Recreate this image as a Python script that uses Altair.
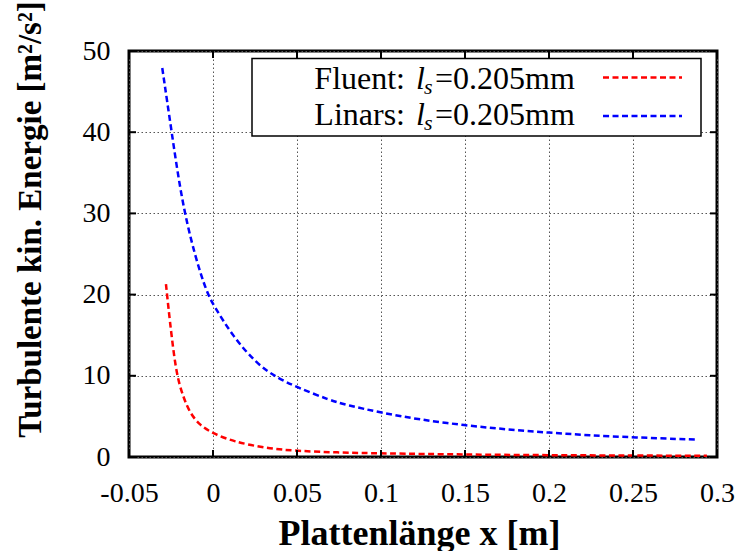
import altair as alt
import pandas as pd

# ---- data ----
fluent_x = [-0.028, -0.0266, -0.0246, -0.0216, -0.0177, -0.0137, -0.0078, 0.0, 0.012,
            0.0318, 0.0497, 0.075, 0.1, 0.15, 0.2, 0.25, 0.294]
fluent_y = [21.3, 18.5, 14.8, 10.0, 7.4, 5.4, 3.9, 2.9, 1.9,
            1.07, 0.74, 0.55, 0.45, 0.3, 0.22, 0.18, 0.15]

linars_x = [-0.0302, -0.0246, -0.0177, -0.0080, -0.0029, 0.0, 0.012, 0.0259, 0.0378,
            0.0497, 0.0695, 0.0794, 0.1, 0.123, 0.15, 0.1746, 0.2, 0.224, 0.25, 0.2875]
linars_y = [47.9, 40.0, 30.3, 22.8, 20.0, 18.8, 14.8, 11.5, 9.8,
            8.6, 7.0, 6.4, 5.46, 4.6, 3.9, 3.4, 3.0, 2.67, 2.42, 2.14]

x_ticks = [-0.05, 0, 0.05, 0.1, 0.15, 0.2, 0.25, 0.3]
y_ticks = [0, 10, 20, 30, 40, 50]

series_names = ["Fluent", "Linars"]
series_colors = ["#ff0000", "#0000ff"]
legend_prefix = ["Fluent:", "Linars:"]
legend_sym = "l"
legend_sub = "s"
legend_value = "=0.205mm"

x_title = "Plattenlänge x [m]"
y_title = "Turbulente kin. Energie [m²/s²]"

# ---- layout ----
W, H = 588, 406
FONT = "Liberation Serif"
DASH = [6, 3.5]

curve_df = pd.DataFrame({
    "x": fluent_x + linars_x,
    "y": fluent_y + linars_y,
    "series": [series_names[0]] * len(fluent_x) + [series_names[1]] * len(linars_x),
    "order": list(range(len(fluent_x))) + list(range(len(linars_x))),
})

xscale = alt.Scale(domain=[-0.05, 0.3], nice=False, zero=False)
yscale = alt.Scale(domain=[0, 50], nice=False, zero=False)

xaxis = alt.Axis(
    values=x_ticks, labelExpr="datum.value + ''", ticks=False, tickSize=0, domain=False,
    labelFont=FONT, labelFontSize=28, labelColor="black", labelBaseline="alphabetic",
    labelPadding=44, labelFlush=False, labelOverlap=False,
    grid=True, gridColor="#555555", gridDash=[1.5, 2.5], gridWidth=1,
    title=x_title, titleFont=FONT, titleFontSize=36, titleFontWeight="bold", titleColor="black",
    titleBaseline="alphabetic", titleY=87, titleX=290, titleAlign="center",
)
yaxis = alt.Axis(
    values=y_ticks, ticks=False, tickSize=0, domain=False,
    labelFont=FONT, labelFontSize=28, labelColor="black", labelPadding=19,
    labelOverlap=False, labelFlush=False,
    grid=True, gridColor="#555555", gridDash=[1.5, 2.5], gridWidth=1,
    title=y_title, titleFont=FONT, titleFontSize=33, titleFontWeight="bold", titleColor="black",
    titleBaseline="alphabetic", titleAngle=270, titleX=-89, titleY=168, titleAlign="center",
)

lines = alt.Chart(curve_df).mark_line(
    strokeDash=DASH, strokeWidth=2.5, clip=True, interpolate="basis"
).encode(
    x=alt.X("x:Q", scale=xscale, axis=xaxis),
    y=alt.Y("y:Q", scale=yscale, axis=yaxis),
    color=alt.Color("series:N", scale=alt.Scale(domain=series_names, range=series_colors), legend=None),
    order="order:Q",
)

xt = pd.DataFrame({"x": x_ticks})
yt = pd.DataFrame({"y": y_ticks})
TL = 7
xtick_b = alt.Chart(xt).mark_rule(color="black", strokeWidth=2).encode(
    x=alt.X("x:Q", scale=xscale, axis=xaxis), y=alt.value(H), y2=alt.value(H - TL))
xtick_t = alt.Chart(xt).mark_rule(color="black", strokeWidth=2).encode(
    x=alt.X("x:Q", scale=xscale, axis=xaxis), y=alt.value(0), y2=alt.value(TL))
ytick_l = alt.Chart(yt).mark_rule(color="black", strokeWidth=2).encode(
    y=alt.Y("y:Q", scale=yscale, axis=yaxis), x=alt.value(0), x2=alt.value(TL))
ytick_r = alt.Chart(yt).mark_rule(color="black", strokeWidth=2).encode(
    y=alt.Y("y:Q", scale=yscale, axis=yaxis), x=alt.value(W), x2=alt.value(W - TL))

one = pd.DataFrame({"a": [0]})
legend_box = alt.Chart(one).mark_rect(fill="white", stroke="black", strokeWidth=1.5).encode(
    x=alt.value(123), x2=alt.value(572), y=alt.value(7.5), y2=alt.value(85))

legend_layers = [legend_box]
row_base = [38.3, 74.3]
row_line = [26.6, 65.0]
for i in range(2):
    d = pd.DataFrame({"p": [legend_prefix[i]], "l": [legend_sym], "s": [legend_sub], "v": [legend_value]})
    b = row_base[i]
    legend_layers.append(alt.Chart(d).mark_text(
        align="right", baseline="alphabetic", font=FONT, fontSize=32, color="black").encode(
        x=alt.value(276), y=alt.value(b), text="p:N"))
    legend_layers.append(alt.Chart(d).mark_text(
        align="left", baseline="alphabetic", font=FONT, fontSize=32, fontStyle="italic", color="black").encode(
        x=alt.value(287), y=alt.value(b), text="l:N"))
    legend_layers.append(alt.Chart(d).mark_text(
        align="left", baseline="alphabetic", font=FONT, fontSize=22, fontStyle="italic", color="black").encode(
        x=alt.value(295), y=alt.value(b + 5), text="s:N"))
    legend_layers.append(alt.Chart(d).mark_text(
        align="left", baseline="alphabetic", font=FONT, fontSize=32, color="black").encode(
        x=alt.value(306), y=alt.value(b), text="v:N"))
    legend_layers.append(alt.Chart(d).mark_rule(
        color=series_colors[i], strokeWidth=2.5, strokeDash=DASH).encode(
        x=alt.value(474), x2=alt.value(553), y=alt.value(row_line[i])))

chart = alt.layer(
    lines, xtick_b, xtick_t, ytick_l, ytick_r, *legend_layers
).properties(
    width=W, height=H, autosize=alt.AutoSizeParams(type="none"),
    padding={"left": 129, "top": 51, "right": 743 - 129 - W, "bottom": 551 - 51 - H},
    background="white",
).configure_view(stroke="black", strokeWidth=3)

chart.save("out.html", embed_options={"renderer": "svg", "actions": False})
